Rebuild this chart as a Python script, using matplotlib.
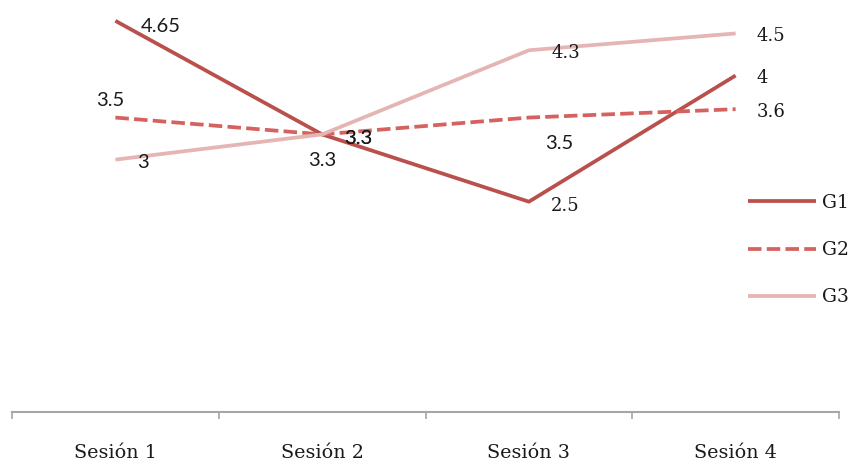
import matplotlib
matplotlib.use("Agg")
import matplotlib.pyplot as plt

sesiones = ["Sesión 1", "Sesión 2", "Sesión 3", "Sesión 4"]
grupos = ["G1", "G2", "G3"]
g1 = [4.65, 3.3, 2.5, 4]
g2 = [3.5, 3.3, 3.5, 3.6]
g3 = [3, 3.3, 4.3, 4.5]
etiquetas = {
    "G1": ["4.65", "3.3", "2.5", "4"],
    "G2": ["3.5", "3.3", "3.5", "3.6"],
    "G3": ["3", "3.3", "4.3", "4.5"],
}

colores = {"G1": "#b9504c", "G2": "#d6625f", "G3": "#e5b5b4"}
estilos = {"G1": "-", "G2": (0, (3.6, 1.4)), "G3": "-"}

serif = ["DejaVu Serif"]
sans = ["Lato", "DejaVu Sans"]

# desplazamiento de cada etiqueta en puntos: (dx, dy, alineación, fuente)
pos_etiquetas = {
    "G1": [(18, -4, "left", sans), (16, -3, "left", sans), (16, -3, "left", serif), (15, -2, "left", serif)],
    "G2": [(-4, 12, "center", sans), (16, -3, "left", sans), (22, -19, "center", sans), (15, -2, "left", serif)],
    "G3": [(16, -2, "left", sans), (0, -19, "center", sans), (16, -2, "left", serif), (15, -2, "left", serif)],
}
tam = {"Lato": 14.5, "DejaVu Serif": 13}

fig = plt.figure(figsize=(8.5, 4.63), dpi=100)
ax = fig.add_axes([12 / 850, 51 / 463, 827 / 850, 408 / 463])

x = list(range(len(sesiones)))
series = {"G1": g1, "G2": g2, "G3": g3}
for g in grupos:
    ax.plot(x, series[g], color=colores[g], linestyle=estilos[g], linewidth=2.7,
            label=g, solid_capstyle="butt", dash_capstyle="butt")

for g in grupos:
    for i, (v, txt) in enumerate(zip(series[g], etiquetas[g])):
        dx, dy, ha, fam = pos_etiquetas[g][i]
        ax.annotate(txt, (i, v), xytext=(dx, dy), textcoords="offset points",
                    ha=ha, va="center", fontsize=tam[fam[0]], color="#1a1a1a", family=fam)

ax.set_xlim(-0.5, 3.5)
ax.set_ylim(0, 4.85)
ax.set_xticks(x)
ax.set_xticklabels(sesiones, family=serif, fontsize=13.8, color="#1a1a1a")
ax.set_xticks([-0.5, 0.5, 1.5, 2.5, 3.5], minor=True)
ax.tick_params(axis="x", which="major", length=0, pad=23)
ax.tick_params(axis="x", which="minor", length=5, width=1.2, color="#a6a6a6")
ax.set_yticks([])
for lado in ["left", "right", "top"]:
    ax.spines[lado].set_visible(False)
ax.spines["bottom"].set_color("#a6a6a6")
ax.spines["bottom"].set_linewidth(1.5)

leg = ax.legend(loc="upper left", bbox_to_anchor=((748 - 12) / 827, (412 - 194) / 408),
                frameon=False, borderpad=0, borderaxespad=0, handlelength=3.6,
                handletextpad=0.35, labelspacing=1.55, prop={"family": serif, "size": 13.5})
for t in leg.get_texts():
    t.set_color("#1a1a1a")

fig.savefig("out.png", dpi=100)
